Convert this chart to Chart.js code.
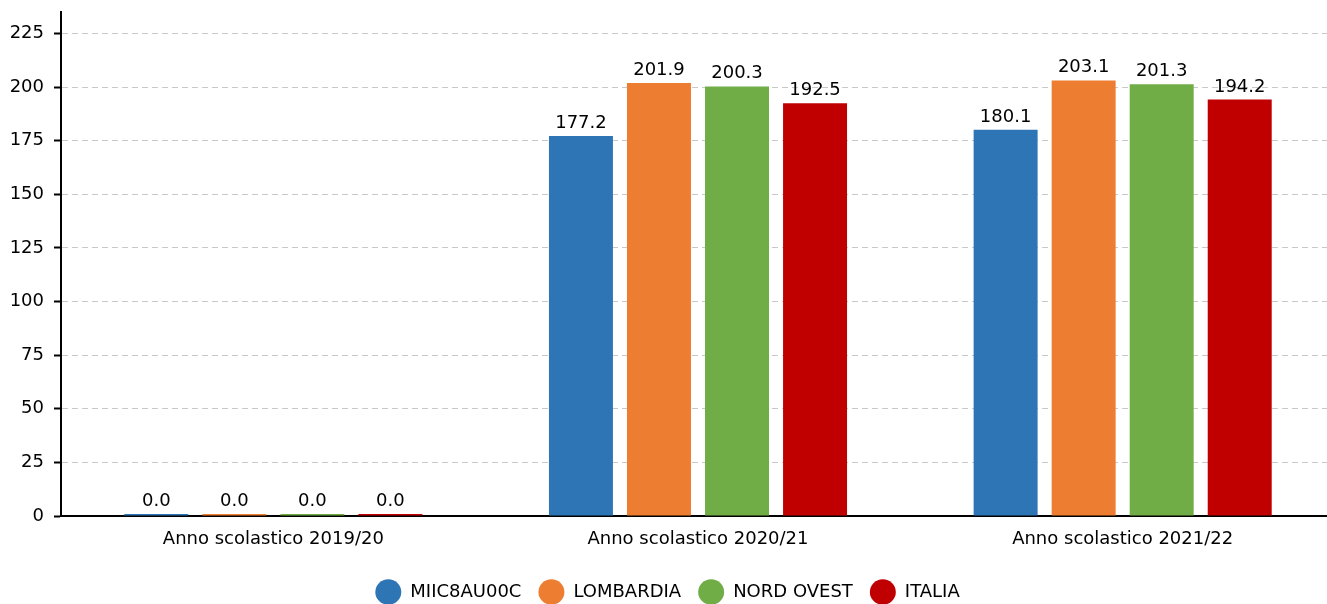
<!DOCTYPE html>
<html lang="it">
<head>
<meta charset="utf-8">
<title>Anno scolastico</title>
<script src="https://cdn.jsdelivr.net/npm/chart.js@4/dist/chart.umd.min.js"></script>
<style>
  html, body { margin: 0; padding: 0; background: #fff; overflow: hidden; }
  .chart-wrap { position: relative; width: 1336px; height: 611px; }
</style>
</head>
<body>
<div class="chart-wrap">
  <canvas id="school-chart"></canvas>
</div>
<script>
// Dati
const categories = ['Anno scolastico 2019/20', 'Anno scolastico 2020/21', 'Anno scolastico 2021/22'];
const seriesNames = ['MIIC8AU00C', 'LOMBARDIA', 'NORD OVEST', 'ITALIA'];
const seriesColors = ['#2E75B6', '#ED7D31', '#70AD47', '#C00000'];
const schoolValues = [0, 177.2, 180.1];
const lombardiaValues = [0, 201.9, 203.1];
const nordOvestValues = [0, 200.3, 201.3];
const italiaValues = [0, 192.5, 194.2];
const yTicks = [0, 25, 50, 75, 100, 125, 150, 175, 200, 225];

const FONT = "'DejaVu Sans', sans-serif";

// etichette dei valori sopra le barre
const valueLabels = {
  id: 'valueLabels',
  afterDatasetsDraw(chart) {
    const { ctx } = chart;
    ctx.save();
    ctx.font = `18px ${FONT}`;
    ctx.fillStyle = '#000';
    ctx.textAlign = 'center';
    ctx.textBaseline = 'alphabetic';
    chart.data.datasets.forEach((ds, i) => {
      chart.getDatasetMeta(i).data.forEach((bar, j) => {
        ctx.fillText(Number(ds.data[j]).toFixed(1), bar.x, bar.y - 8);
      });
    });
    ctx.restore();
  }
};

const allValues = [schoolValues, lombardiaValues, nordOvestValues, italiaValues];

const datasets = seriesNames.map((name, i) => ({
  label: name,
  data: allValues[i],
  backgroundColor: seriesColors[i],
  borderWidth: 0,
  minBarLength: 2,
  barPercentage: 0.82,
  categoryPercentage: 0.735
}));

new Chart(document.getElementById('school-chart'), {
  type: 'bar',
  data: { labels: categories, datasets },
  options: {
    responsive: true,
    maintainAspectRatio: false,
    animation: false,
    layout: { padding: { top: 12, left: 0, right: 1, bottom: 0 } },
    plugins: {
      tooltip: { enabled: false },
      legend: {
        position: 'bottom',
        labels: {
          usePointStyle: true,
          pointStyle: 'circle',
          pointStyleWidth: 26,
          padding: 17,
          color: '#000',
          font: { family: FONT, size: 18 }
        }
      }
    },
    scales: {
      x: {
        grid: { display: false, drawTicks: false },
        border: { display: true, color: '#000', width: 2 },
        ticks: { color: '#000', padding: 13, font: { family: FONT, size: 18 } },
        afterFit(scale) { scale.height = 50; }
      },
      y: {
        min: 0,
        max: 235,
        afterBuildTicks(scale) {
          scale.ticks = yTicks.map(v => ({ value: v }));
        },
        afterFit(scale) {
          scale.width = 61;
          scale.paddingTop = 0;
          scale.paddingBottom = 0;
        },
        grid: {
          color: '#c8c8c8',
          lineWidth: 1,
          tickLength: 7,
          tickColor: '#000',
          tickWidth: 2
        },
        border: { display: true, color: '#000', width: 2, dash: [6, 4] },
        ticks: { color: '#000', padding: 10, font: { family: FONT, size: 18 } }
      }
    }
  },
  plugins: [valueLabels]
});
</script>
</body>
</html>
